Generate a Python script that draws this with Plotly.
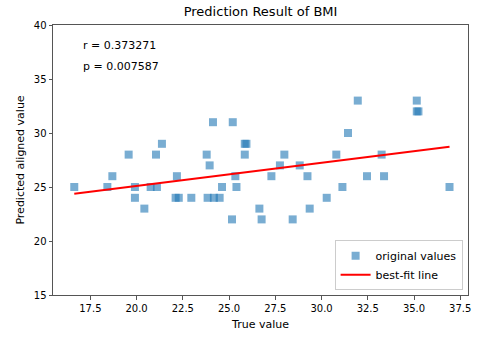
import numpy as np
import plotly.graph_objects as go

true_vals = [16.63, 18.42, 18.69, 19.57, 19.91, 19.91, 20.42, 20.76, 21.10, 21.05,
             21.37, 22.18, 22.11, 22.28, 22.96, 24.13, 25.20, 23.79, 23.95, 23.84,
             24.18, 24.49, 24.62, 25.34, 25.40, 25.85, 25.94, 25.85, 25.16, 26.64,
             26.76, 27.29, 27.75, 27.99, 28.44, 28.82, 29.24, 29.36, 30.28, 30.80,
             31.13, 31.43, 31.96, 32.46, 33.25, 33.38, 35.15, 35.15, 35.24, 36.92]
pred_vals = [25, 25, 26, 28, 25, 24, 23, 25, 25, 28,
             29, 26, 24, 24, 24, 31, 31, 28, 27, 24,
             24, 24, 25, 26, 25, 29, 29, 28, 22, 23,
             22, 26, 27, 28, 22, 27, 26, 23, 24, 28,
             25, 30, 33, 26, 28, 26, 33, 32, 32, 25]

x_ticks = [17.5, 20.0, 22.5, 25.0, 27.5, 30.0, 32.5, 35.0, 37.5]
y_ticks = [15, 20, 25, 30, 35, 40]
r_text = "r = 0.373271"
p_text = "p = 0.007587"

x = np.array(true_vals)
y = np.array(pred_vals)
slope, intercept = np.polyfit(x, y, 1)
fit_x = np.array([x.min(), x.max()])
fit_y = slope * fit_x + intercept

font = "DejaVu Sans"
fig = go.Figure()
fig.add_trace(go.Scatter(
    x=true_vals, y=pred_vals, mode="markers", name="original values",
    marker=dict(symbol="square", size=8, color="rgba(31,119,180,0.6)", line=dict(width=0)),
))
fig.add_trace(go.Scatter(
    x=fit_x, y=fit_y, mode="lines", name="best-fit line",
    line=dict(color="red", width=2),
))

axis_common = dict(
    showgrid=False, zeroline=False, showline=True, mirror=True, automargin=False,
    linecolor="#555", linewidth=1, ticks="outside", ticklen=3.5,
    tickcolor="#555", tickfont=dict(family=font, size=10, color="black"),
)
fig.update_xaxes(range=[15.48, 37.92], tickvals=x_ticks, tickformat=".1f",
                 title=dict(text="True value", font=dict(family=font, size=11, color="black"), standoff=7),
                 **axis_common)
fig.update_yaxes(range=[15, 40], tickvals=y_ticks,
                 title=dict(text="Predicted aligned value", font=dict(family=font, size=11, color="black"), standoff=6),
                 **axis_common)

fig.add_annotation(x=0.067, y=0.925, xref="paper", yref="paper", text=r_text, showarrow=False,
                   xanchor="left", yanchor="middle", font=dict(family=font, size=11, color="black"))
fig.add_annotation(x=0.067, y=0.845, xref="paper", yref="paper", text=p_text, showarrow=False,
                   xanchor="left", yanchor="middle", font=dict(family=font, size=11, color="black"))

fig.update_layout(
    width=487, height=339,
    margin=dict(l=53, r=19, t=25, b=44),
    paper_bgcolor="white", plot_bgcolor="white",
    title=dict(text="Prediction Result of BMI", x=0.535, xanchor="center", y=0.965, yanchor="middle",
               font=dict(family=font, size=13, color="black")),
    legend=dict(x=0.987, y=0.018, xanchor="right", yanchor="bottom",
                bgcolor="rgba(255,255,255,0.8)", bordercolor="#ccc", borderwidth=1,
                font=dict(family=font, size=11, color="black"), tracegroupgap=0),
    showlegend=True,
)

fig.write_html("out.html", config={"displayModeBar": False},
               post_script="document.body.style.margin='0';document.body.style.overflow='hidden';")
